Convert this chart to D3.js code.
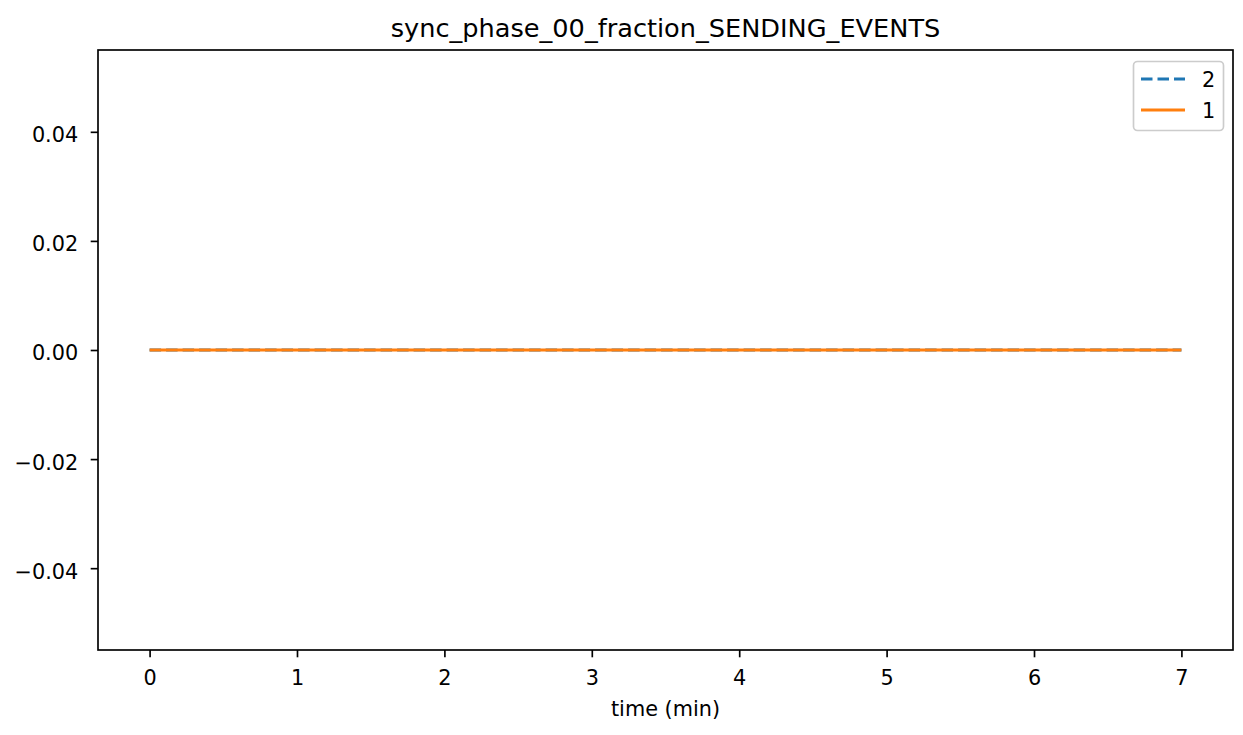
<!DOCTYPE html>
<html>
<head>
<meta charset="utf-8">
<script src="https://cdn.jsdelivr.net/npm/d3@7"></script>
<style>
  body { margin: 0; background: #fff; }
  svg { display: block; }
  text { font-family: "DejaVu Sans", sans-serif; fill: #000; }
</style>
</head>
<body>
<svg id="chart" width="1243" height="735"></svg>
<script>
// ---- data ----
const chartTitle = "sync_phase_00_fraction_SENDING_EVENTS";
const xLabel = "time (min)";
const times = [0, 0.5, 1, 1.5, 2, 2.5, 3, 3.5, 4, 4.5, 5, 5.5, 6, 6.5, 7];
const series2 = [0, 0, 0, 0, 0, 0, 0, 0, 0, 0, 0, 0, 0, 0, 0];
const series1 = [0, 0, 0, 0, 0, 0, 0, 0, 0, 0, 0, 0, 0, 0, 0];
const seriesNames = ["2", "1"];
const xTicks = [0, 1, 2, 3, 4, 5, 6, 7];
const yTicks = [-0.04, -0.02, 0.00, 0.02, 0.04];

// ---- layout ----
const svg = d3.select("#chart");
const pLeft = 98, pRight = 1233, pTop = 50, pBottom = 650;
const fs = 20.8;
const colors = ["#1f77b4", "#ff7f0e"];

const x = d3.scaleLinear().domain([-0.35, 7.35]).range([pLeft, pRight]);
const y = d3.scaleLinear().domain([-0.055, 0.055]).range([pBottom, pTop]);

// lines
const line = d3.line().x(d => x(d[0])).y(d => y(d[1]));
const data = [series2, series1];
data.forEach((vals, i) => {
  svg.append("path")
    .datum(times.map((t, j) => [t, vals[j]]))
    .attr("d", line)
    .attr("fill", "none")
    .attr("stroke", colors[i])
    .attr("stroke-width", 3.1)
    .attr("stroke-dasharray", i === 0 ? "11.5,5" : null);
});

// axes
const xAxis = svg.append("g").attr("transform", `translate(0,${pBottom})`)
  .call(d3.axisBottom(x).tickValues(xTicks).tickFormat(d3.format("d")).tickSize(7.3).tickPadding(13));
const yAxis = svg.append("g").attr("transform", `translate(${pLeft},0)`)
  .call(d3.axisLeft(y).tickValues(yTicks).tickFormat(d => d3.format(".2f")(d).replace("-", "\u2212")).tickSize(7.3).tickPadding(12.5));
[xAxis, yAxis].forEach(g => {
  g.select(".domain").remove();
  g.selectAll(".tick line").attr("stroke", "#000").attr("stroke-width", 1.67);
  g.selectAll(".tick text").attr("font-size", fs).attr("font-family", "DejaVu Sans").attr("fill", "#000");
});
yAxis.selectAll(".tick text").attr("dy", "0.48em");

// frame
svg.append("rect").attr("x", pLeft).attr("y", pTop)
  .attr("width", pRight - pLeft).attr("height", pBottom - pTop)
  .attr("fill", "none").attr("stroke", "#000").attr("stroke-width", 1.67);

// title and label
svg.append("text").attr("x", (pLeft + pRight) / 2).attr("y", 37)
  .attr("text-anchor", "middle").attr("font-size", 25.6).text(chartTitle);
svg.append("text").attr("x", (pLeft + pRight) / 2).attr("y", 716)
  .attr("text-anchor", "middle").attr("font-size", fs).text(xLabel);

// legend
const lg = svg.append("g");
lg.append("rect").attr("x", 1133.5).attr("y", 61.5).attr("width", 90).attr("height", 69)
  .attr("rx", 4).attr("fill", "#fff").attr("fill-opacity", 0.8)
  .attr("stroke", "#cccccc").attr("stroke-width", 1.67);
seriesNames.forEach((name, i) => {
  const yy = 79 + i * 31;
  lg.append("line").attr("x1", 1141).attr("x2", 1185).attr("y1", yy).attr("y2", yy)
    .attr("stroke", colors[i]).attr("stroke-width", 3.1)
    .attr("stroke-dasharray", i === 0 ? "11.5,5" : null);
  lg.append("text").attr("x", 1202).attr("y", yy + 7.5).attr("font-size", fs).text(name);
});
</script>
</body>
</html>
